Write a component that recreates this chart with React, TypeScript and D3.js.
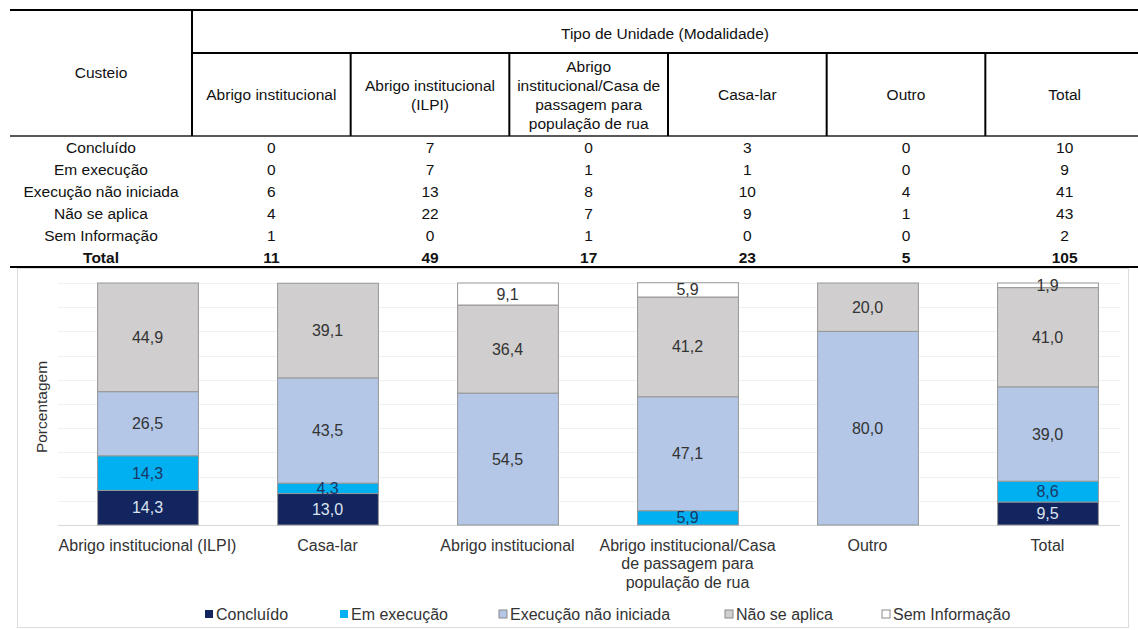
import React from "react";
import * as d3 from "d3";

// ---------- Table data ----------
const tableHeaderTitle = "Tipo de Unidade (Modalidade)";
const tableCorner = "Custeio";
const tableColumns: string[][] = [
  ["Abrigo institucional"],
  ["Abrigo institucional", "(ILPI)"],
  ["Abrigo", "institucional/Casa de", "passagem para", "população de rua"],
  ["Casa-lar"],
  ["Outro"],
  ["Total"],
];
const tableRowLabels = ["Concluído", "Em execução", "Execução não iniciada", "Não se aplica", "Sem Informação", "Total"];
const rowConcluido = [0, 7, 0, 3, 0, 10];
const rowEmExecucao = [0, 7, 1, 1, 0, 9];
const rowNaoIniciada = [6, 13, 8, 10, 4, 41];
const rowNaoSeAplica = [4, 22, 7, 9, 1, 43];
const rowSemInfo = [1, 0, 1, 0, 0, 2];
const rowTotal = [11, 49, 17, 23, 5, 105];
const tableValues = [rowConcluido, rowEmExecucao, rowNaoIniciada, rowNaoSeAplica, rowSemInfo, rowTotal];

// ---------- Chart data ----------
const categories = [
  "Abrigo institucional (ILPI)",
  "Casa-lar",
  "Abrigo institucional",
  "Abrigo institucional/Casa de passagem para população de rua",
  "Outro",
  "Total",
];
const categoryLines: string[][] = [
  ["Abrigo institucional (ILPI)"],
  ["Casa-lar"],
  ["Abrigo institucional"],
  ["Abrigo institucional/Casa", "de passagem para", "população de rua"],
  ["Outro"],
  ["Total"],
];
const seriesNames = ["Concluído", "Em execução", "Execução não iniciada", "Não se aplica", "Sem Informação"];
const pctConcluido = [14.3, 13.0, 0, 0, 0, 9.5];
const pctEmExecucao = [14.3, 4.3, 0, 5.9, 0, 8.6];
const pctNaoIniciada = [26.5, 43.5, 54.5, 47.1, 80.0, 39.0];
const pctNaoSeAplica = [44.9, 39.1, 36.4, 41.2, 20.0, 41.0];
const pctSemInfo = [0, 0, 9.1, 5.9, 0, 1.9];
const seriesValues = [pctConcluido, pctEmExecucao, pctNaoIniciada, pctNaoSeAplica, pctSemInfo];
const yTicks = [0, 10, 20, 30, 40, 50, 60, 70, 80, 90, 100];

const seriesColors = ["#12255e", "#00b0f0", "#b4c7e7", "#d0cece", "#ffffff"];
const labelColors = ["#dde4f1", "#1c3766", "#333333", "#333333", "#333333"];

const W = 1138;
const H = 630;
const FONT = "'Liberation Sans', Arial, sans-serif";
const TFS = 15.5;

export default function App() {
  // table scales
  const colX = d3.scaleBand<number>().domain(d3.range(tableColumns.length)).range([192, 1144]);
  const rowY = d3.scaleBand<number>().domain(d3.range(tableRowLabels.length)).range([137, 268]);
  const headerTop = 53;
  const headerBottom = 136;
  const lineH = 19;

  // chart scales
  const x = d3.scaleBand<string>().domain(categories).range([57.5, 1137.5]).paddingInner(0.44).paddingOuter(0.22);
  const y = d3.scaleLinear().domain([0, 100]).range([525, 283]);

  const rows = categories.map((c, i) => {
    const r: any = { cat: c };
    seriesNames.forEach((s, j) => (r[s] = seriesValues[j][i]));
    return r;
  });
  const stack = d3.stack<any>().keys(seriesNames)(rows);

  const legendX = [205, 340, 499, 725, 882];

  return (
    <div style={{ position: "absolute", left: 0, top: 0 }}>
      <svg width={W} height={H} style={{ display: "block", fontFamily: FONT }}>
        <rect x={0} y={0} width={W} height={H} fill="#ffffff" />
        {/* ---------- TABLE ---------- */}
        <line x1={10} x2={1138} y1={10} y2={10} stroke="#000" strokeWidth={2} />
        <line x1={192} x2={1138} y1={headerTop} y2={headerTop} stroke="#000" strokeWidth={2} />
        <line x1={10} x2={1138} y1={headerBottom} y2={headerBottom} stroke="#222" strokeWidth={1.5} />
        <line x1={10} x2={1138} y1={267} y2={267} stroke="#000" strokeWidth={2} />
        <line x1={192} x2={192} y1={10} y2={headerBottom} stroke="#000" strokeWidth={2} />
        {d3.range(1, tableColumns.length).map((i) => (
          <line key={i} x1={colX(i)!} x2={colX(i)!} y1={headerTop} y2={headerBottom} stroke="#000" strokeWidth={2} />
        ))}
        <text x={101} y={72} textAnchor="middle" dominantBaseline="central" fontSize={TFS} fill="#111">
          {tableCorner}
        </text>
        <text x={665} y={33} textAnchor="middle" dominantBaseline="central" fontSize={TFS} fill="#111">
          {tableHeaderTitle}
        </text>
        {tableColumns.map((lines, i) => {
          const cx = colX(i)! + colX.bandwidth() / 2;
          const cy = (headerTop + headerBottom) / 2;
          return lines.map((l, k) => (
            <text
              key={i + "-" + k}
              x={cx}
              y={cy + (k - (lines.length - 1) / 2) * lineH}
              textAnchor="middle"
              dominantBaseline="central"
              fontSize={TFS}
              fill="#111"
            >
              {l}
            </text>
          ));
        })}
        {tableRowLabels.map((lab, r) => {
          const cy = rowY(r)! + rowY.bandwidth() / 2;
          const bold = r === tableRowLabels.length - 1;
          return (
            <g key={lab} fontWeight={bold ? "bold" : "normal"}>
              <text x={101} y={cy} textAnchor="middle" dominantBaseline="central" fontSize={TFS} fill="#111">
                {lab}
              </text>
              {tableValues[r].map((v, c) => (
                <text
                  key={c}
                  x={colX(c)! + colX.bandwidth() / 2}
                  y={cy}
                  textAnchor="middle"
                  dominantBaseline="central"
                  fontSize={TFS}
                  fill="#111"
                >
                  {v}
                </text>
              ))}
            </g>
          );
        })}

        {/* ---------- CHART ---------- */}
        <rect x={17.5} y={268.5} width={1111} height={359} fill="none" stroke="#dcdcdc" strokeWidth={1} />
        {yTicks.map((t) => (
          <line
            key={t}
            x1={58}
            x2={1120}
            y1={Math.round(y(t)) + 0.5}
            y2={Math.round(y(t)) + 0.5}
            stroke={t === 0 ? "#d9d9d9" : "#f0f0f0"}
            strokeWidth={1}
          />
        ))}
        {stack.map((layer, si) => (
          <g key={seriesNames[si]}>
            {layer.map((d, i) => {
              const v = d[1] - d[0];
              if (v <= 0) return null;
              const bx = x(categories[i])!;
              const y0 = y(d[1]);
              const h = y(d[0]) - y(d[1]);
              return (
                <rect
                  key={i}
                  x={bx + 0.5}
                  y={y0}
                  width={x.bandwidth()}
                  height={h}
                  fill={seriesColors[si]}
                  stroke="#969696"
                  strokeWidth={1}
                />
              );
            })}
          </g>
        ))}
        {stack.map((layer, si) => (
          <g key={"lab" + si}>
            {layer.map((d, i) => {
              const v = d[1] - d[0];
              if (v <= 0) return null;
              const cx = x(categories[i])! + x.bandwidth() / 2;
              const cy = (y(d[0]) + y(d[1])) / 2;
              return (
                <text
                  key={i}
                  x={cx}
                  y={cy}
                  textAnchor="middle"
                  dominantBaseline="central"
                  fontSize={16}
                  fill={labelColors[si]}
                >
                  {seriesValues[si][i].toFixed(1).replace(".", ",")}
                </text>
              );
            })}
          </g>
        ))}
        {categoryLines.map((lines, i) =>
          lines.map((l, k) => (
            <text
              key={i + "-" + k}
              x={x(categories[i])! + x.bandwidth() / 2}
              y={545 + k * 18.5}
              textAnchor="middle"
              dominantBaseline="central"
              fontSize={16}
              fill="#333"
            >
              {l}
            </text>
          ))
        )}
        <text
          transform={`translate(41, 407) rotate(-90)`}
          textAnchor="middle"
          dominantBaseline="central"
          fontSize={15.5}
          fill="#333"
        >
          Porcentagem
        </text>
        {seriesNames.map((s, i) => (
          <g key={s} transform={`translate(${legendX[i]}, 614)`}>
            <rect x={0} y={-4} width={8} height={8} fill={seriesColors[i]} stroke="#8a8a8a" strokeWidth={i === 0 || i === 1 ? 0 : 1} />
            <text x={11} y={0} dominantBaseline="central" fontSize={16} fill="#333">
              {s}
            </text>
          </g>
        ))}
      </svg>
    </div>
  );
}
